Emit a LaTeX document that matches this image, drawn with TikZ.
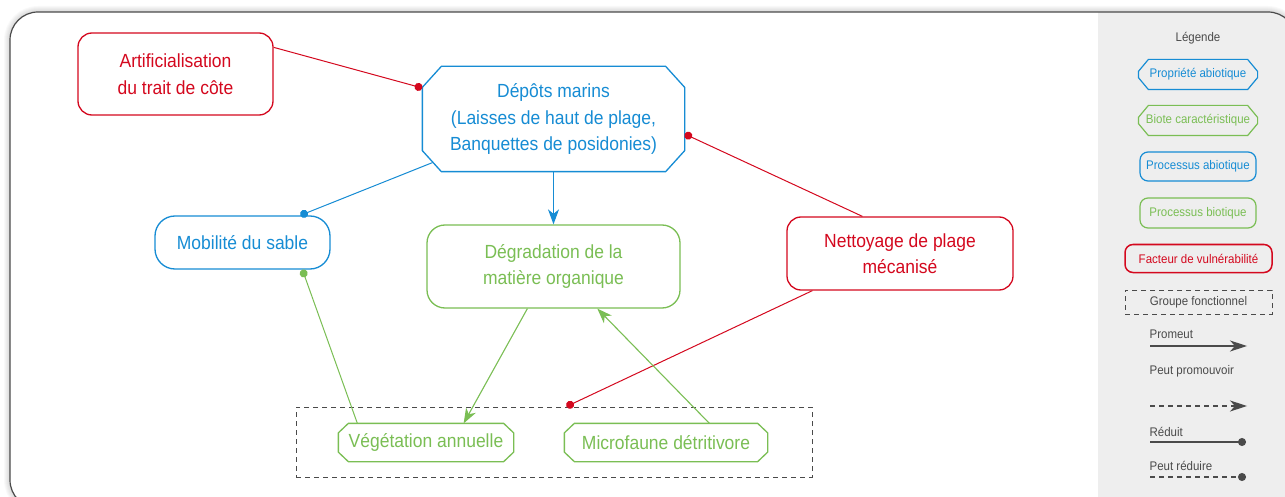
\documentclass[tikz,border=0pt]{standalone}
\usepackage{fontspec}
\setmainfont{Liberation Sans}[FakeStretch=0.92]
\usetikzlibrary{calc,arrows.meta}

\definecolor{cblue}{RGB}{22,140,212}
\definecolor{cgreen}{RGB}{122,190,84}
\definecolor{cred}{RGB}{212,8,30}
\definecolor{cgray}{RGB}{74,74,74}
\definecolor{panel}{RGB}{238,238,238}

\tikzset{
  base/.style={inner sep=0pt, align=center, line width=1.3pt,
    font=\fontsize{19}{26.5}\selectfont},
  roundbox/.style={base, rectangle, rounded corners=#1},
  leg/.style={font=\fontsize{12.5}{15}\selectfont, line width=1.2pt},
  reduce/.style={line width=1pt, -{Circle[length=8pt]}},
  promote/.style={line width=1.1pt, -{Stealth[length=15pt,width=11pt,inset=4.5pt]}},
  legline/.style={cgray, line width=1.2pt},
  legarrow/.style={legline, -{Stealth[length=17pt,width=11pt,inset=5pt]}},
  legdot/.style={legline, -{Circle[length=8pt]}},
  legdash/.style={dash pattern=on 5pt off 4pt},
}

% chamfered outline round a rectangular node:
% name, horizontal chamfer, vertical chamfer, draw options
\newcommand\octoframe[4]{%
  \draw[#4] ($(#1.north west)+(#2,0)$) -- ($(#1.north east)+(-#2,0)$)
    -- ($(#1.north east)+(0,#3)$) -- ($(#1.south east)+(0,-#3)$)
    -- ($(#1.south east)+(-#2,0)$) -- ($(#1.south west)+(#2,0)$)
    -- ($(#1.south west)+(0,-#3)$) -- ($(#1.north west)+(0,#3)$) -- cycle;}

\begin{document}
\begin{tikzpicture}[x=1pt,y=-1pt]
\useasboundingbox (0,0) rectangle (1285,497);
\clip (0,0) rectangle (1285,497);

% soft shadow round the frame
\foreach \w in {2,4,6,8,10,12}
  \draw[black, opacity=0.025, line width=\w pt, rounded corners=28pt]
    (10,12) rectangle (1296,508);
% frame and legend panel
\fill[white, rounded corners=28pt] (10,12) rectangle (1296,508);
\begin{scope}
  \clip[rounded corners=28pt] (10,12) rectangle (1296,508);
  \fill[panel] (1098,0) rectangle (1300,510);
\end{scope}
\draw[cgray, line width=1.2pt, rounded corners=28pt] (10,12) rectangle (1296,508);

% main nodes
\node[roundbox=14pt, draw=cred, text=cred, minimum width=195pt, minimum height=82pt]
  (artif) at (175.5,74) {Artificialisation\\du trait de côte};
\node[base, text=cblue, minimum width=261pt, minimum height=104pt]
  (dep) at (553.5,119) {Dépôts marins\\(Laisses de haut de plage,\\Banquettes de posidonies)};
\octoframe{dep}{19}{21}{cblue, line width=1.3pt}
\node[roundbox=20pt, draw=cblue, text=cblue, minimum width=175pt, minimum height=53pt]
  (mob) at (242.5,242.5) {Mobilité du sable};
\node[roundbox=18pt, draw=cgreen, text=cgreen, minimum width=253pt, minimum height=83pt]
  (deg) at (553.5,266.5) {Dégradation de la\\matière organique};
\node[roundbox=14pt, draw=cred, text=cred, minimum width=226pt, minimum height=73pt]
  (net) at (900,253.5) {Nettoyage de plage\\mécanisé};
\node[rectangle, draw=cgray, line width=1pt, legdash, minimum width=516pt, minimum height=70pt]
  (grp) at (554,442) {};
\node[base, text=cgreen, minimum width=174pt, minimum height=37pt]
  (veg) at (426,442.5) {Végétation annuelle};
\octoframe{veg}{10}{9.5}{cgreen, line width=1.3pt}
\node[base, text=cgreen, minimum width=202pt, minimum height=37pt]
  (mic) at (666,442.5) {Microfaune détritivore};
\octoframe{mic}{10}{9.5}{cgreen, line width=1.3pt}

% connectors
\draw[reduce, cred] ($(artif.north east)+(0,15)$) -- ($(dep.west)+(0,-31)$);
\draw[reduce, cred] ($(net.north west)+(76,0)$) -- ($(dep.east)+(0,15)$);
\draw[reduce, cred] ($(net.south west)+(26,0)$) -- ($(grp.north west)+(271,0)$);
\draw[reduce, cblue] ($(dep.south west)+(10,-9)$) -- ($(mob.north west)+(146,0)$);
\draw[promote, cblue] (dep.south) -- (deg.north);
\draw[reduce, cgreen] ($(veg.north west)+(19,0)$) -- ($(mob.south west)+(148,0)$);
\draw[promote, cgreen] ($(deg.south west)+(101,0)$) -- ($(veg.north east)+(-50,0)$);
\draw[promote, cgreen] ($(mic.north west)+(145,0)$) -- ($(deg.south west)+(171,0)$);

% legend
\node[leg, text=cgray] (ltitle) at (1198,38) {Légende};
\node[leg, text=cblue, minimum width=118pt, minimum height=29pt, inner sep=0pt]
  (l1) at (1198,74.5) {Propriété abiotique};
\octoframe{l1}{10}{12}{cblue, line width=1.2pt}
\node[leg, text=cgreen, minimum width=118pt, minimum height=29pt, inner sep=0pt]
  (l2) at (1198,120.5) {Biote caractéristique};
\octoframe{l2}{10}{12}{cgreen, line width=1.2pt}
\node[roundbox=8pt, leg, draw=cblue, text=cblue, minimum width=116pt, minimum height=29pt]
  (l3) at (1198,166.5) {Processus abiotique};
\node[roundbox=8pt, leg, draw=cgreen, text=cgreen, minimum width=116pt, minimum height=30pt]
  (l4) at (1198,213) {Processus biotique};
\node[roundbox=8pt, leg, line width=1.5pt, draw=cred, text=cred, minimum width=147pt, minimum height=28pt]
  (l5) at (1198.5,258.5) {Facteur de vulnérabilité};
\node[rectangle, leg, line width=1pt, legdash, draw=cgray, text=cgray, inner sep=0pt,
  minimum width=147pt, minimum height=24pt]
  (l6) at (1198.5,302) {Groupe fonctionnel};

\node[leg, text=cgray, anchor=west, inner sep=0pt] (t1) at (1149,334) {Promeut};
\node[leg, text=cgray, anchor=west, inner sep=0pt] (t2) at (1149,371) {Peut promouvoir};
\node[leg, text=cgray, anchor=west, inner sep=0pt] (t3) at (1149,432) {Réduit};
\node[leg, text=cgray, anchor=west, inner sep=0pt] (t4) at (1149,466) {Peut réduire};

\coordinate (a1) at (1150,346); \coordinate (b1) at (1247,346);
\coordinate (a2) at (1150,406); \coordinate (b2) at (1247,406);
\coordinate (a3) at (1150,442); \coordinate (b3) at (1246,442);
\coordinate (a4) at (1150,477); \coordinate (b4) at (1246,477);
\draw[legarrow] (a1) -- (b1);
\draw[legarrow, legdash] (a2) -- (b2);
\draw[legdot] (a3) -- (b3);
\draw[legdot, legdash] (a4) -- (b4);
\end{tikzpicture}
\end{document}
